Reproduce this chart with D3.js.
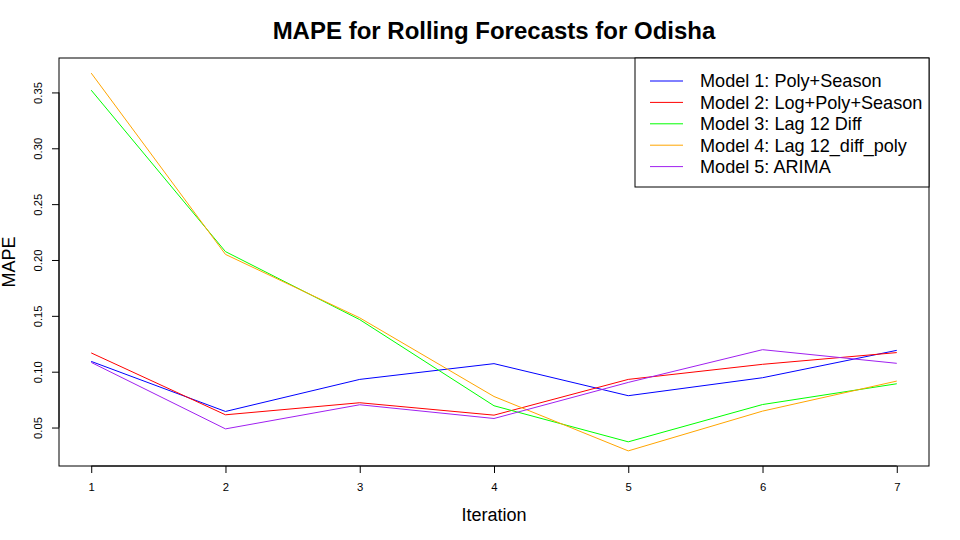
<!DOCTYPE html>
<html><head><meta charset="utf-8">
<script src="https://cdn.jsdelivr.net/npm/d3@7"></script>
<style>body{margin:0;background:#fff}svg{display:block}text{font-family:"Liberation Sans",Arial,sans-serif}</style>
</head><body><svg id="c" width="960" height="540"></svg>
<script>
const iterations = [1,2,3,4,5,6,7];
const model1 = [0.1092,0.0644,0.0931,0.1072,0.0785,0.0946,0.1191];
const model2 = [0.1168,0.0614,0.0722,0.0611,0.0931,0.1066,0.1171];
const model3 = [0.3520,0.2075,0.1466,0.0695,0.0372,0.0706,0.0892];
const model4 = [0.3673,0.2050,0.1482,0.0778,0.0291,0.0647,0.0916];
const model5 = [0.1083,0.0488,0.0704,0.0581,0.0904,0.1197,0.1075];
const seriesNames = ["Model 1: Poly+Season","Model 2: Log+Poly+Season","Model 3: Lag 12 Diff","Model 4: Lag 12_diff_poly","Model 5: ARIMA"];
const seriesColors = ["#0000FF","#FF0000","#00FF00","#FFA500","#A020F0"];
const yTicks = [0.05,0.10,0.15,0.20,0.25,0.30,0.35];
const series = [model1,model2,model3,model4,model5];

const svg = d3.select("#c");
const L=59, R=929, T=58, B=466;
const all = series.flat();
const ymin=d3.min(all), ymax=d3.max(all), yp=(ymax-ymin)*0.04;
const x = d3.scaleLinear().domain([1-0.24,7+0.24]).range([L,R]);
const y = d3.scaleLinear().domain([ymin-yp,ymax+yp]).range([B,T]);

// lines
const line = d3.line().x((d,i)=>x(iterations[i])).y(d=>y(d));
series.forEach((s,k)=>{
  svg.append("path").attr("d",line(s)).attr("fill","none").attr("stroke",seriesColors[k]).attr("stroke-width",1);
});

// axes
const xa = svg.append("g").attr("transform",`translate(0,${B})`)
  .call(d3.axisBottom(x).tickValues(iterations).tickFormat(d3.format("d")).tickSize(7).tickPadding(10));
xa.select(".domain").attr("d",`M${x(1)},0H${x(7)}`);
const ya = svg.append("g").attr("transform",`translate(${L},0)`)
  .call(d3.axisLeft(y).tickValues(yTicks).tickFormat(d3.format(".2f")).tickSize(7));
ya.select(".domain").attr("d",`M0,${y(0.05)}V${y(0.35)}`);
ya.selectAll(".tick text").attr("transform",null).attr("x",null).attr("dy",null)
  .attr("text-anchor","middle").attr("transform","translate(-21,0) rotate(-90)").attr("dy","0.35em");
svg.selectAll(".tick text").attr("font-size",11.3).attr("fill","#000").attr("font-family","Liberation Sans, Arial, sans-serif");
svg.selectAll(".tick line, .domain").attr("stroke","#000");

// frame
svg.append("rect").attr("x",L).attr("y",T).attr("width",R-L).attr("height",B-T)
  .attr("fill","none").attr("stroke","#000").attr("stroke-width",1);

// title & labels
svg.append("text").attr("x",(L+R)/2).attr("y",39).attr("text-anchor","middle")
  .attr("font-size",24).attr("font-weight","bold").text("MAPE for Rolling Forecasts for Odisha");
svg.append("text").attr("x",(L+R)/2).attr("y",521).attr("text-anchor","middle")
  .attr("font-size",18).text("Iteration");
svg.append("text").attr("transform",`translate(9,${(T+B)/2}) rotate(-90)`).attr("text-anchor","middle")
  .attr("dy","0.35em").attr("font-size",18).text("MAPE");

// legend
const lg = svg.append("g");
lg.append("rect").attr("x",635).attr("y",T).attr("width",R-635).attr("height",187-T)
  .attr("fill","#fff").attr("stroke","#000");
seriesNames.forEach((n,i)=>{
  const yy = 81 + i*21.4;
  lg.append("line").attr("x1",650).attr("x2",683).attr("y1",yy).attr("y2",yy).attr("stroke",seriesColors[i]);
  lg.append("text").attr("x",700).attr("y",yy).attr("dy","0.35em").attr("font-size",18.1).text(n);
});
</script></body></html>
